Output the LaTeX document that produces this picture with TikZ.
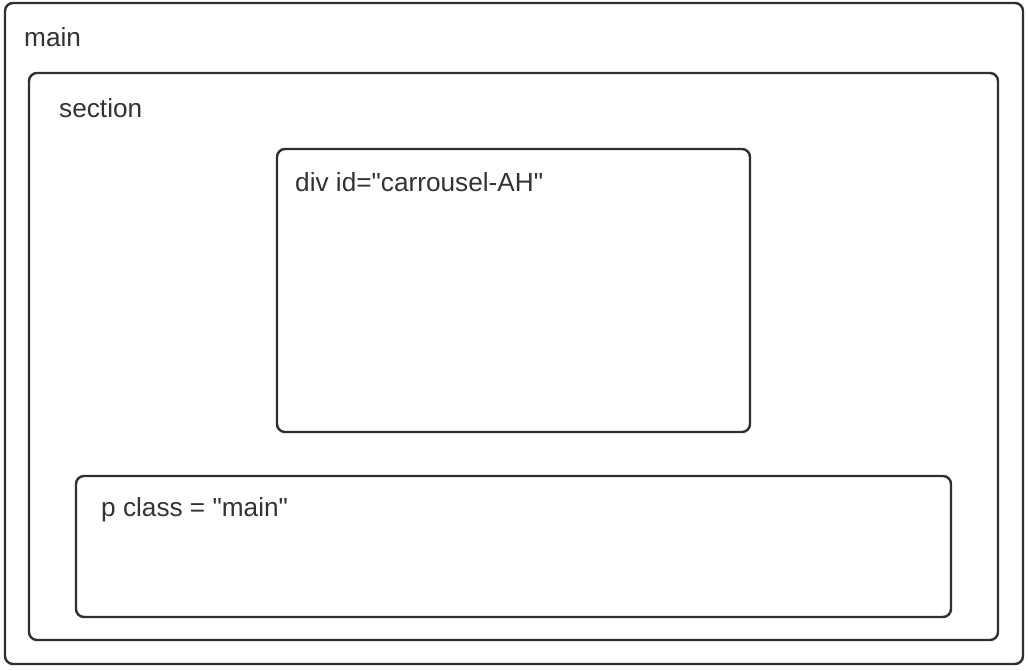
\documentclass[tikz,border=0pt]{standalone}
\usepackage{fontspec}
\setmainfont{Liberation Sans}[Ligatures=TeXOff]
\definecolor{boxline}{HTML}{2E2E33}
\definecolor{txt}{HTML}{333333}
\begin{document}
\begin{tikzpicture}[x=1pt,y=-1pt,
  frame/.style={draw=boxline,line width=2.4pt,rounded corners=8pt,fill=white},
  lbl/.style={anchor=base west,inner sep=0pt,text=txt,font=\fontsize{26.2}{30}\selectfont}]
\useasboundingbox[fill=white] (0,0) rectangle (1028,670);
\draw[frame] (5,3) rectangle (1023,664);
\draw[frame] (29,73) rectangle (998,640);
\draw[frame] (277,149) rectangle (750,432);
\draw[frame] (76,476) rectangle (951,617);
\node[lbl] (tmain) at (24,46) {main};
\node[lbl] (tsection) at (59,117) {section};
\node[lbl] (tdiv) at (295,191) {div id="carrousel-AH"};
\node[lbl] (tp) at (101,516) {p class = "main"};
\end{tikzpicture}
\end{document}
